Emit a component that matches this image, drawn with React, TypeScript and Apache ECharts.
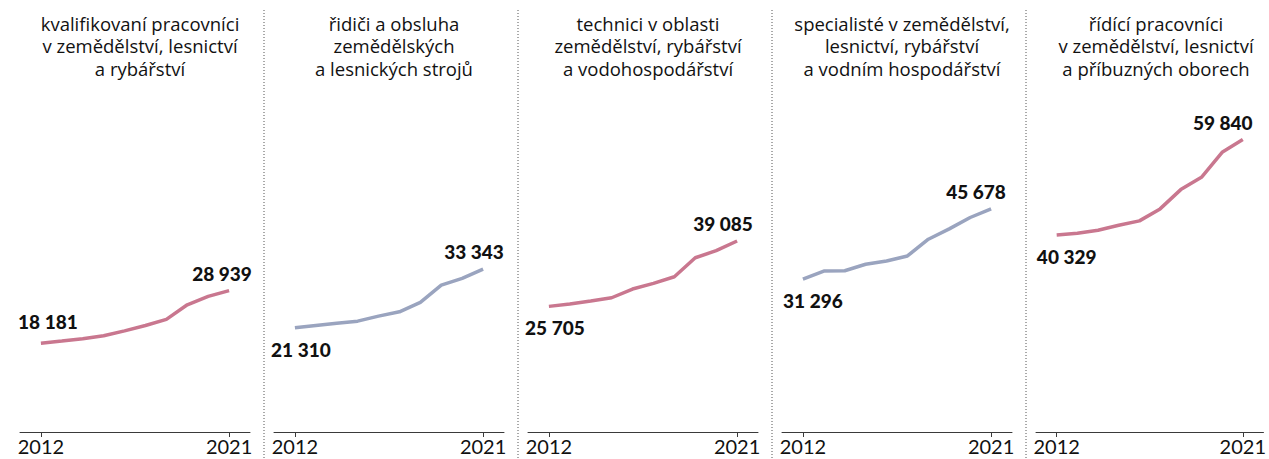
import React, { useEffect, useRef } from "react";
import * as echarts from "echarts";

const years = [2012, 2013, 2014, 2015, 2016, 2017, 2018, 2019, 2020, 2021];

const titles = [
  "kvalifikovaní pracovníci\nv zemědělství, lesnictví\na rybářství",
  "řidiči a obsluha\nzemědělských\na lesnických strojů",
  "technici v oblasti\nzemědělství, rybářství\na vodohospodářství",
  "specialisté v zemědělství,\nlesnictví, rybářství\na vodním hospodářství",
  "řídící pracovníci\nv zemědělství, lesnictví\na příbuzných oborech",
];

const kvalifikovani = [18181, 18600, 19100, 19700, 20700, 21800, 23050, 26030, 27750, 28939];
const ridici = [21310, 21800, 22270, 22680, 23710, 24590, 26520, 30060, 31440, 33343];
const technici = [25705, 26180, 26790, 27470, 29250, 30420, 31770, 35660, 37100, 39085];
const specialiste = [31296, 32940, 33000, 34320, 35000, 36020, 39450, 41570, 43890, 45678];
const ridici2 = [40329, 40660, 41270, 42290, 43200, 45650, 49600, 52120, 57240, 59840];

const seriesValues = [kvalifikovani, ridici, technici, specialiste, ridici2];
const tickYears = [2012, 2021];

const PINK = "#c9778f";
const BLUE = "#9aa4bf";
const colors = [PINK, BLUE, PINK, BLUE, PINK];
const startPos = ["top", "bottom", "bottom", "bottom", "bottom"];
const startDx = [7, 6, 6, 10, 10];
const endDx = [-7, -9, -14, -15, -20];

const fmt = (v: number) => String(v).replace(/\B(?=(\d{3})+(?!\d))/g, " ");

export default function App() {
  const ref = useRef<HTMLDivElement>(null);
  useEffect(() => {
    if (!ref.current) return;
    const chart = echarts.init(ref.current, null, { renderer: "svg" });
    const W = 254;
    const gridLeft = (i: number) => 20 + W * i;
    const gridW = 230;
    const labelFont = "Lato";
    const option: any = {
      animation: false,
      backgroundColor: "#ffffff",
      title: titles.map((t, i) => ({
        text: t,
        left: gridLeft(i) + gridW / 2,
        top: 7,
        textAlign: "center",
        textStyle: {
          fontFamily: "Open Sans",
          fontSize: 18.5,
          fontWeight: "normal",
          lineHeight: 22.5,
          color: "#111111",
          align: "center",
        },
      })),
      grid: titles.map((_, i) => ({
        left: gridLeft(i),
        width: gridW,
        top: 129,
        bottom: 27,
      })),
      xAxis: titles.map((_, i) => ({
        gridIndex: i,
        type: "value",
        min: 2011,
        max: 2022,
        splitLine: { show: false },
        axisLine: { show: true, lineStyle: { color: "#3a3a3a", width: 1 } },
        axisTick: { show: true, customValues: tickYears, length: 5, lineStyle: { color: "#3a3a3a" } },
        axisLabel: {
          customValues: tickYears,
          fontFamily: labelFont,
          fontSize: 20,
          lineHeight: 20,
          color: "#111111",
          margin: 4,
          formatter: (v: number) => String(v),
        },
      })),
      yAxis: titles.map((_, i) => ({
        gridIndex: i,
        type: "value",
        min: 0,
        max: 62000,
        show: false,
        splitLine: { show: false },
      })),
      series: seriesValues.map((vals, i) => ({
        type: "line",
        xAxisIndex: i,
        yAxisIndex: i,
        showSymbol: true,
        symbol: "circle",
        symbolSize: 0,
        lineStyle: { color: colors[i], width: 3.5 },
        itemStyle: { color: colors[i] },
        data: vals.map((v, j) => {
          const item: any = { value: [years[j], v] };
          if (j === 0) {
            item.label = {
              show: true,
              position: startPos[i],
              distance: 12,
              offset: [startDx[i], 0],
              formatter: () => fmt(v),
              fontFamily: labelFont,
              fontWeight: 900,
              fontSize: 19,
              color: "#111",
            };
          } else if (j === vals.length - 1) {
            item.label = {
              show: true,
              position: "top",
              distance: 8,
              offset: [endDx[i], 0],
              formatter: () => fmt(v),
              fontFamily: labelFont,
              fontWeight: 900,
              fontSize: 19,
              color: "#111",
            };
          }
          return item;
        }),
      })),
      graphic: [1, 2, 3, 4].map((k) => ({
        type: "line",
        shape: { x1: 10 + W * k, y1: 10, x2: 10 + W * k, y2: 459 },
        style: { stroke: "#555", lineWidth: 1, lineDash: [1, 2] },
      })),
    };
    chart.setOption(option);
    return () => chart.dispose();
  }, []);
  return (
    <div
      ref={ref}
      style={{ position: "fixed", left: 0, top: 0, width: 1269, height: 459 }}
    />
  );
}
